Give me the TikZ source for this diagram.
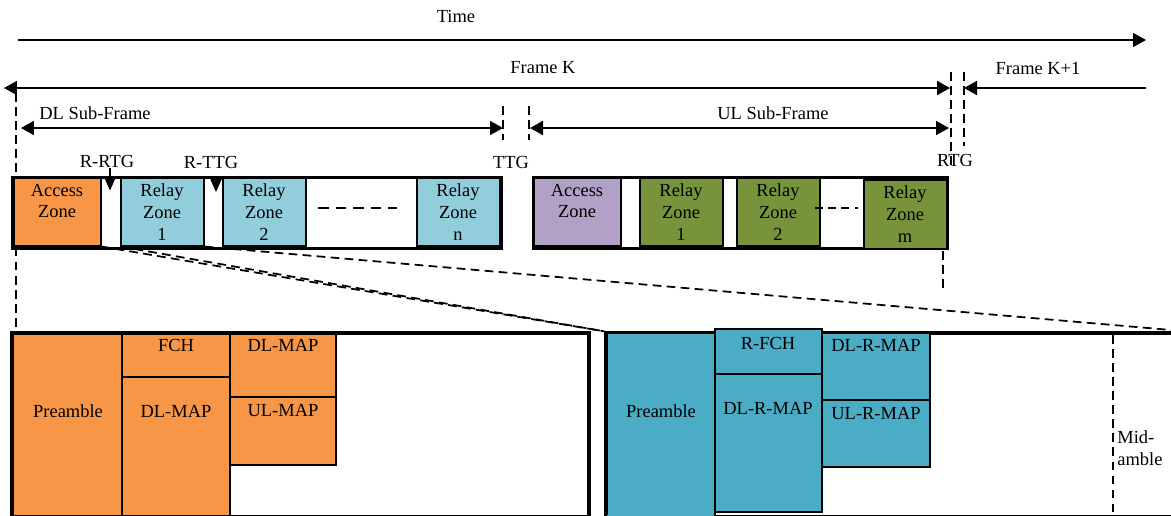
\documentclass[tikz,border=0pt]{standalone}
\usepackage{fontspec}
\setmainfont{Liberation Serif}
\usetikzlibrary{arrows.meta,positioning,fit}
\definecolor{accorange}{RGB}{247,150,70}
\definecolor{relayblue}{RGB}{146,205,220}
\definecolor{accpurple}{RGB}{178,161,199}
\definecolor{relaygreen}{RGB}{119,147,60}
\definecolor{mapteal}{RGB}{75,172,198}

\begin{document}
\begin{tikzpicture}[
    x=0.02cm, y=-0.02cm,
    lbl/.style={font=\fontsize{10.5}{12.5}\selectfont, inner sep=0pt, align=center},
    zone/.style={draw, line width=0.6pt, inner sep=0pt},
    rowbox/.style={draw, line width=1.7pt, inner sep=0pt},
    mapcell/.style={draw, line width=1pt, inner sep=0pt},
    dimarrow/.style={line width=1.1pt, {Triangle[length=0.26cm,width=0.28cm]}-{Triangle[length=0.26cm,width=0.28cm]}},
    cutline/.style={line width=1pt, dash pattern=on 5pt off 3pt},
    gapmark/.style={line width=0.8pt, -{Triangle[length=0.28cm,width=0.24cm]}}
]
    \useasboundingbox (0,0) rectangle (1171,515);

    % Time axis
    \coordinate (t0) at (18,40);
    \coordinate (t1) at (1146,40);
    \node[lbl] (time) at (456,16) {Time};
    \draw[line width=0.9pt, -{Triangle[length=0.26cm,width=0.28cm]}] (t0) -- (t1);

    % Frame K and Frame K+1
    \coordinate (fk0) at (4,88);
    \coordinate (fk1) at (950,88);
    \coordinate (fn0) at (1146,88);
    \coordinate (fn1) at (964,88);
    \node[lbl] (framek) at (543,68) {Frame K};
    \node[lbl] (framek1) at (1038,68) {Frame K+1};
    \draw[dimarrow] (fk0) -- (fk1);
    \draw[line width=1.1pt, -{Triangle[length=0.26cm,width=0.28cm]}] (fn0) -- (fn1);

    % DL and UL sub-frames
    \coordinate (dl0) at (21,128);
    \coordinate (dl1) at (503,128);
    \coordinate (ul0) at (530,128);
    \coordinate (ul1) at (949,128);
    \node[lbl] (dlsub) at (95,113) {DL Sub-Frame};
    \node[lbl] (ulsub) at (773,113) {UL Sub-Frame};
    \draw[dimarrow] (dl0) -- (dl1);
    \draw[dimarrow] (ul0) -- (ul1);

    % gap boundaries
    \draw[cutline] (16,93) -- (16,331);
    \draw[cutline] (503,106) -- (503,140);
    \draw[cutline] (529,106) -- (529,140);
    \draw[cutline] (951,72) -- (951,168);
    \draw[cutline] (964,72) -- (964,146);

    % gap labels
    \node[lbl] (rrtg) at (107,161) {R-RTG};
    \node[lbl] (rttg) at (211,162) {R-TTG};
    \node[lbl] (ttg) at (511,162) {TTG};
    \node[lbl] (rtg) at (955,160) {RTG};

    % DL zones
    \node[zone, fill=accorange, fit={(14,178) (101,246)}] (dlacc) {};
    \node[zone, fill=relayblue, fit={(121,178) (204,246)}] (dlrz1) {};
    \node[zone, fill=relayblue, fit={(223,178) (306,246)}] (dlrz2) {};
    \node[zone, fill=relayblue, fit={(417,178) (500,246)}] (dlrzn) {};
    \node[rowbox, fit={(12,177) (502,248)}] (dlrow) {};
    \node[lbl] (dlacctxt) at (57,201) {Access\\Zone};
    \node[lbl] (dlrz1txt) at (162,212) {Relay\\Zone\\1};
    \node[lbl] (dlrz2txt) at (264,212) {Relay\\Zone\\2};
    \node[lbl] (dlrzntxt) at (458,212) {Relay\\Zone\\n};
    \draw[line width=0.9pt, dash pattern=on 6pt off 4pt] (318,208) -- (397,208);
    \draw[gapmark] (rrtg.south) ++(3,0) -- ++(0,23);
    \draw[gapmark] (216,177) -- (216,192);

    % UL zones
    \node[zone, fill=accpurple, fit={(534,178) (621,246)}] (ulacc) {};
    \node[zone, fill=relaygreen, fit={(640,178) (723,246)}] (ulrz1) {};
    \node[zone, fill=relaygreen, fit={(737,178) (820,246)}] (ulrz2) {};
    \node[rowbox, fit={(533,177) (948,248)}] (ulrow) {};
    \node[zone, line width=0.9pt, fill=relaygreen, fit={(864,180) (947,249)}] (ulrzm) {};
    \node[lbl] (ulacctxt) at (577,201) {Access\\Zone};
    \node[lbl] (ulrz1txt) at (681,212) {Relay\\Zone\\1};
    \node[lbl] (ulrz2txt) at (778,212) {Relay\\Zone\\2};
    \node[lbl] (ulrzmtxt) at (905,214) {Relay\\Zone\\m};
    \draw[line width=0.9pt, dash pattern=on 4.5pt off 3pt] (815,208) -- (858,208);
    \draw[cutline] (943,251) -- (943,290);

    % access zone frame (DL)
    \node[mapcell, fill=accorange, fit={(13,333) (122,520)}] (lpre) {};
    \node[mapcell, fill=accorange, fit={(122,333) (230,377)}] (lfch) {};
    \node[mapcell, fill=accorange, fit={(122,377) (230,520)}] (ldlmap) {};
    \node[mapcell, fill=accorange, fit={(230,333) (336,397)}] (ldlmap2) {};
    \node[mapcell, fill=accorange, fit={(230,397) (336,465)}] (lulmap) {};
    \node[rowbox, line width=1.9pt, fit={(12,333) (589,516.5)}] (lbox) {};
    \node[lbl] (lpretxt) at (68,411) {Preamble};
    \node[lbl] (lfchtxt) at (176,345) {FCH};
    \node[lbl] (ldlmaptxt) at (176,411) {DL-MAP};
    \node[lbl] (ldlmap2txt) at (283,345) {DL-MAP};
    \node[lbl] (lulmaptxt) at (283,410) {UL-MAP};

    % relay zone frame
    \node[rowbox, line width=1.9pt, fit={(606,333) (1190,516.5)}] (rbox) {};
    \node[mapcell, fill=mapteal, fit={(606,333) (715,520)}] (rpre) {};
    \node[mapcell, fill=mapteal, fit={(715,329) (822,374)}] (rfch) {};
    \node[mapcell, fill=mapteal, fit={(715,374) (822,512)}] (rdlmap) {};
    \node[mapcell, fill=mapteal, fit={(822,333) (930,400)}] (rdlmap2) {};
    \node[mapcell, fill=mapteal, fit={(822,400) (930,467)}] (rulmap) {};
    \draw[line width=1.9pt] (606,333) -- (606,515);
    \node[lbl] (rpretxt) at (661,411) {Preamble};
    \node[lbl] (rfchtxt) at (768,343) {R-FCH};
    \node[lbl] (rdlmaptxt) at (768,408) {DL-R-MAP};
    \node[lbl] (rdlmap2txt) at (876,345) {DL-R-MAP};
    \node[lbl] (rulmaptxt) at (876,413) {UL-R-MAP};
    \draw[cutline] (1113,335) -- (1113,515);
    \node[lbl, anchor=west, align=left] (midamble) at (1117,448) {Mid-\\amble};

    % zoom lines
    \coordinate (zoomend) at (1171,330);
    \draw[cutline] (dlacc.south east) -- (rbox.north west);
    \draw[cutline] (dlrz1.south west) -- (rbox.north west);
    \draw[cutline] (dlrz1.south east) -- (zoomend);
\end{tikzpicture}
\end{document}
